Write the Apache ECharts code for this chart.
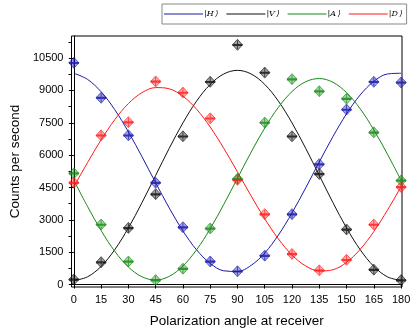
<!DOCTYPE html>
<html>
<head>
<meta charset="utf-8">
<script src="https://cdn.jsdelivr.net/npm/echarts@6/dist/echarts.min.js"></script>
<style>
    html, body { margin: 0; padding: 0; background: #fff; }
    #chart { width: 415px; height: 333px; }
</style>
</head>
<body>
<div id="chart"></div>
<script>
// 测量角度 (deg)
const angles = [0, 15, 30, 45, 60, 75, 90, 105, 120, 135, 150, 165, 180];
// 实测计数
const hCounts = [10280, 8660, 6920, 4720, 2660, 1068, 614, 1340, 3264, 5580, 8114, 9400, 9370];
const vCounts = [236, 1036, 2627, 4190, 6873, 9400, 11114, 9827, 6873, 5127, 2555, 691, 205];
const aCounts = [5159, 2782, 1068, 205, 736, 2600, 4900, 7509, 9523, 8964, 8614, 7055, 4827];
const dCounts = [4720, 6918, 7530, 9418, 8900, 7705, 4855, 3264, 1418, 659, 1145, 2782, 4523];

// 拟合曲线 (every 7.5 deg)
const fitAngles = [0, 7.5, 15, 22.5, 30, 37.5, 45, 52.5, 60, 67.5, 75, 82.5, 90,
    97.5, 105, 112.5, 120, 127.5, 135, 142.5, 150, 157.5, 165, 172.5, 180];
const hFit = [9795, 9513, 8938, 8107, 7079, 5923, 4717, 3544, 2484, 1610, 980, 637, 605,
    887, 1462, 2293, 3321, 4477, 5683, 6856, 7916, 8790, 9420, 9763, 9795];
const vFit = [190, 356, 842, 1616, 2625, 3800, 5060, 6320, 7495, 8504, 9278, 9764, 9930,
    9764, 9278, 8504, 7495, 6320, 5060, 3800, 2625, 1616, 842, 356, 190];
const aFit = [4831, 3624, 2503, 1543, 811, 357, 210, 382, 861, 1612, 2588, 3719, 4929,
    6136, 7257, 8217, 8949, 9403, 9550, 9378, 8899, 8148, 7172, 6041, 4831];
const dFit = [4538, 5650, 6709, 7644, 8391, 8898, 9131, 9075, 8733, 8128, 7302, 6311, 5222,
    4110, 3051, 2116, 1369, 862, 629, 685, 1027, 1632, 2458, 3449, 4538];

// 刻度
const xTicks = [0, 15, 30, 45, 60, 75, 90, 105, 120, 135, 150, 165, 180];
const yTicks = [0, 1500, 3000, 4500, 6000, 7500, 9000, 10500];
const yMinorTicks = [750, 2250, 3750, 5250, 6750, 8250, 9750, 11250];

const states = [
    {name: '|H\u2009\u27E9', color: '#1a1aa8', fill: 'rgba(40,40,190,0.55)', counts: hCounts, fit: hFit},
    {name: '|V\u2009\u27E9', color: '#111111', fill: 'rgba(40,40,40,0.55)', counts: vCounts, fit: vFit},
    {name: '|A\u2009\u27E9', color: '#178a17', fill: 'rgba(30,140,30,0.5)', counts: aCounts, fit: aFit},
    {name: '|D\u2009\u27E9', color: '#ff1a1a', fill: 'rgba(255,40,40,0.5)', counts: dCounts, fit: dFit}
];

const pairs = (xs, ys) => xs.map((x, i) => [x, ys[i]]);

const series = [];
states.forEach((s) => {
    series.push({
        name: s.name,
        type: 'line',
        data: pairs(fitAngles, s.fit),
        smooth: 0.35,
        showSymbol: false,
        color: s.color,
        lineStyle: {color: s.color, width: 1},
        itemStyle: {color: s.color},
        z: 2
    });
});
states.forEach((s) => {
    // 菱形点
    series.push({
        type: 'scatter',
        data: pairs(angles, s.counts),
        symbol: 'diamond',
        symbolSize: [10, 11],
        itemStyle: {color: s.fill, borderColor: s.color, borderWidth: 0.8},
        z: 3
    });
    // 误差条
    series.push({
        type: 'scatter',
        data: pairs(angles, s.counts),
        symbol: 'path://M0,4 L10,4 L10,6.4 L0,6.4 Z M4.6,0 L5.4,0 L5.4,10 L4.6,10 Z',
        symbolSize: [10, 9],
        itemStyle: {color: s.color},
        silent: true,
        z: 4
    });
});

const labelFont = {fontFamily: 'Liberation Sans', fontSize: 11, color: '#000'};
const titleFont = {fontFamily: 'Liberation Sans', fontSize: 13.5, color: '#000'};

const option = {
    animation: false,
    backgroundColor: '#fff',
    legend: {
        data: states.map((s) => ({
            name: s.name,
            icon: 'rect',
            itemStyle: {color: s.color},
            lineStyle: {color: s.color, width: 1.2}
        })),
        left: 162,
        top: 4,
        width: 250,
        padding: [6, 4, 6, 2],
        itemGap: 8,
        itemWidth: 39,
        itemHeight: 1.2,
        borderColor: '#888',
        borderWidth: 1,
        textStyle: {fontFamily: 'DejaVu Serif', fontStyle: 'italic', fontSize: 8, color: '#000', padding: [0, 0, 0, -4]}
    },
    grid: {
        left: 55, right: 13, top: 36, bottom: 41,
        show: true, borderColor: '#000', borderWidth: 1
    },
    xAxis: {
        type: 'value',
        min: -1.3,
        max: 180.5,
        name: 'Polarization angle at receiver',
        nameLocation: 'middle',
        nameGap: 27,
        nameTextStyle: titleFont,
        splitLine: {show: false},
        axisLine: {lineStyle: {color: '#000', width: 1}},
        axisTick: {customValues: xTicks, length: 4, lineStyle: {color: '#000'}},
        axisLabel: Object.assign({customValues: xTicks, margin: 7}, labelFont)
    },
    yAxis: [{
        type: 'value',
        min: -114,
        max: 11523,
        name: 'Counts per second',
        nameLocation: 'middle',
        nameGap: 34,
        nameTextStyle: titleFont,
        splitLine: {show: false},
        axisLine: {lineStyle: {color: '#000', width: 1}},
        axisTick: {customValues: yTicks, length: 5, lineStyle: {color: '#000'}},
        axisLabel: Object.assign({customValues: yTicks, margin: 8, formatter: (v) => String(v)}, labelFont)
    }, {
        type: 'value',
        min: -114,
        max: 11523,
        position: 'left',
        splitLine: {show: false},
        axisLine: {show: false},
        axisTick: {customValues: yMinorTicks, length: 3, lineStyle: {color: '#000'}},
        axisLabel: {show: false}
    }],
    series: series
};

const chart = echarts.init(document.getElementById('chart'), null, {renderer: 'canvas'});
chart.setOption(option);
</script>
</body>
</html>
